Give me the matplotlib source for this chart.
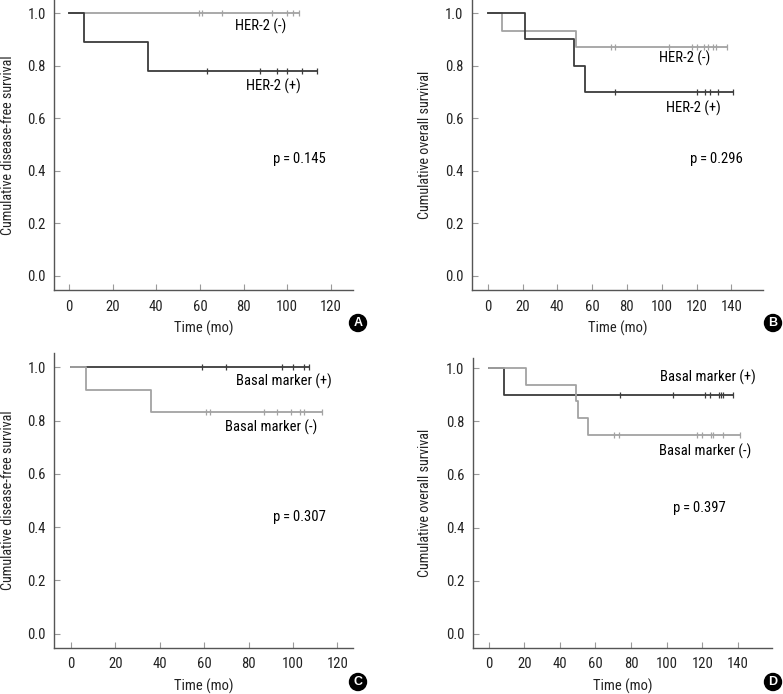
import matplotlib
matplotlib.use("Agg")
import matplotlib.pyplot as plt
import numpy as np

plt.rcParams['font.family'] = ['Roboto Condensed', 'Archivo Narrow', 'Liberation Sans', 'DejaVu Sans']
plt.rcParams['font.size'] = 10.5

DARK = '#3c3c3c'
GRAY = '#a3a3a3'

# --- panel A: disease-free survival by HER-2 ---
a_neg_t = [0, 105.3]
a_neg_s = [1.0, 1.0]
a_neg_cens = [59.5, 61, 70, 93, 100, 102.6, 105.3]
a_pos_t = [0, 7, 36.2, 113.6]
a_pos_s = [1.0, 0.889, 0.778, 0.778]
a_pos_cens = [63.4, 87.4, 95.2, 99.8, 106.8, 113.6]

# --- panel B: overall survival by HER-2 ---
b_neg_t = [0, 8, 50.6, 137.5]
b_neg_s = [1.0, 0.933, 0.871, 0.871]
b_neg_cens = [70.7, 73, 104, 117.4, 120.3, 124.1, 126.6, 129.5, 131.4, 137.5]
b_pos_t = [0, 21.3, 49.4, 55.7, 141]
b_pos_s = [1.0, 0.9, 0.8, 0.7, 0.7]
b_pos_cens = [73, 120.3, 124.7, 127.9, 132.3, 141]

# --- panel C: disease-free survival by basal marker ---
c_pos_t = [0, 107.4]
c_pos_s = [1.0, 1.0]
c_pos_cens = [59, 69.8, 95.1, 100.2, 105, 107.4]
c_neg_t = [0, 6.8, 35.9, 113.1]
c_neg_s = [1.0, 0.917, 0.833, 0.833]
c_neg_cens = [60.7, 62.8, 87, 93, 99, 103.2, 105, 113.1]

# --- panel D: overall survival by basal marker ---
d_pos_t = [0, 8.4, 137.2]
d_pos_s = [1.0, 0.9, 0.9]
d_pos_cens = [73.6, 103.5, 121.3, 124.5, 129.3, 130.6, 131.6, 137.2]
d_neg_t = [0, 21.1, 48.8, 50.3, 55.8, 141]
d_neg_s = [1.0, 0.938, 0.875, 0.813, 0.75, 0.75]
d_neg_cens = [70.4, 73.2, 117, 120, 125, 126, 131.6, 141]

W, H = 783, 694
fig = plt.figure(figsize=(W / 100, H / 100), dpi=100)


def km(ax, t, s, cens, color):
    ax.step(t, s, where='post', color=color, lw=1.3)
    idx = np.searchsorted(t, cens, side='right') - 1
    ax.plot(cens, np.asarray(s)[idx], ls='none', marker='|', ms=5,
            mew=0.9, color=color)


def make_ax(px_left, px_right, px_top, px_bottom, xlim, ylim, xticks, ylabel,
            letter, letter_xy, xlab_y, ylab_x):
    ax = fig.add_axes([px_left / W, 1 - px_bottom / H,
                       (px_right - px_left) / W, (px_bottom - px_top) / H])
    ax.set_xlim(xlim)
    ax.set_ylim(ylim)
    ax.set_xticks(xticks)
    ax.set_yticks(np.arange(0, 1.01, 0.2))
    ax.yaxis.set_major_formatter(plt.FuncFormatter(lambda v, p: f'{v:.1f}'))
    for sp in ['top', 'right']:
        ax.spines[sp].set_visible(False)
    for sp in ['left', 'bottom']:
        ax.spines[sp].set_color('#555555')
        ax.spines[sp].set_linewidth(1.0)
    ax.tick_params(direction='in', length=4, width=0.8, color='#9a9a9a',
                   labelcolor='#222222', labelsize=10.5)
    ax.tick_params(axis='x', pad=7)
    ax.tick_params(axis='y', pad=6)
    h = px_bottom - px_top
    w = px_right - px_left
    ax.set_xlabel('Time (mo)', color='#222222', fontsize=10.5)
    ax.xaxis.label.set_va('center')
    ax.xaxis.set_label_coords(0.5, -(xlab_y - px_bottom) / h)
    ax.set_ylabel(ylabel, color='#222222', fontsize=10.2)
    ax.yaxis.label.set_va('center')
    ax.yaxis.set_label_coords(-(px_left - ylab_x) / w, 0.5)
    fig.text(letter_xy[0] / W, 1 - letter_xy[1] / H, letter, color='white',
             fontweight='bold', fontsize=9, ha='center', va='center',
             family=['Liberation Sans', 'DejaVu Sans'],
             bbox=dict(boxstyle='circle,pad=0.2', fc='black', ec='black'))
    return ax


ax = make_ax(54.3, 352.7, 0, 290, (-6.7, 130), (-0.054, 1.05),
             range(0, 121, 20), 'Cumulative disease-free survival',
             'A', (358, 323), 328, 8)
km(ax, a_neg_t, a_neg_s, a_neg_cens, GRAY)
km(ax, a_pos_t, a_pos_s, a_pos_cens, DARK)
ax.text(87.9, 0.949, 'HER-2 (-)', ha='center', va='center')
ax.text(93.7, 0.722, 'HER-2 (+)', ha='center', va='center')
ax.text(105.6, 0.444, 'p\u2009=\u20090.145', ha='center', va='center')

ax = make_ax(471.7, 763, 0, 290, (-9.2, 158.2), (-0.054, 1.05),
             range(0, 141, 20), 'Cumulative overall survival',
             'B', (773, 323), 328, 424.7)
km(ax, b_neg_t, b_neg_s, b_neg_cens, GRAY)
km(ax, b_pos_t, b_pos_s, b_pos_cens, DARK)
ax.text(113.2, 0.829, 'HER-2 (-)', ha='center', va='center')
ax.text(118.4, 0.638, 'HER-2 (+)', ha='center', va='center')
ax.text(131.4, 0.446, 'p\u2009=\u20090.296', ha='center', va='center')

ax = make_ax(54.3, 352.7, 353.3, 647.7, (-7.5, 126.9), (-0.053, 1.053),
             range(0, 121, 20), 'Cumulative disease-free survival',
             'C', (358, 682), 686, 8)
km(ax, c_pos_t, c_pos_s, c_pos_cens, DARK)
km(ax, c_neg_t, c_neg_s, c_neg_cens, GRAY)
ax.text(96, 0.946, 'Basal marker (+)', ha='center', va='center')
ax.text(90, 0.775, 'Basal marker (-)', ha='center', va='center')
ax.text(102.9, 0.438, 'p\u2009=\u20090.307', ha='center', va='center')

ax = make_ax(473, 772.3, 357.7, 647.7, (-8.8, 159.3), (-0.053, 1.04),
             range(0, 141, 20), 'Cumulative overall survival',
             'D', (773, 682), 686, 424.7)
km(ax, d_pos_t, d_pos_s, d_pos_cens, DARK)
km(ax, d_neg_t, d_neg_s, d_neg_cens, GRAY)
ax.text(123.2, 0.966, 'Basal marker (+)', ha='center', va='center')
ax.text(121.3, 0.686, 'Basal marker (-)', ha='center', va='center')
ax.text(118.5, 0.472, 'p\u2009=\u20090.397', ha='center', va='center')

fig.savefig('out.png', dpi=100)
